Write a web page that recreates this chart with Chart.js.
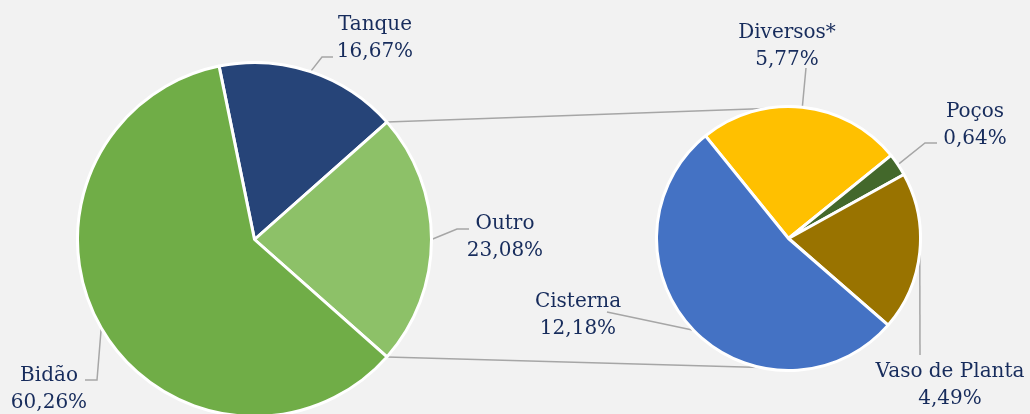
<!DOCTYPE html>
<html><head><meta charset="utf-8">
<script src="https://cdn.jsdelivr.net/npm/chart.js@4/dist/chart.umd.min.js"></script>
<style>
html,body{margin:0;padding:0;width:1030px;height:414px;overflow:hidden;background:#F2F2F2;}
#stage{position:relative;width:1030px;height:414px;overflow:hidden;}
#stage canvas{position:absolute;}
.lbl{position:absolute;font-family:"DejaVu Serif",serif;font-size:20px;line-height:27px;color:#172C5C;text-align:center;white-space:nowrap;transform:translateX(-50%);}
</style></head>
<body><div id="stage">
<canvas id="lines" width="1030" height="414" style="left:0;top:0"></canvas>
<canvas id="pieMain" width="357" height="357" style="left:76px;top:61px"></canvas>
<canvas id="pieSub" width="267" height="267" style="left:655px;top:105px"></canvas>
</div>
<script>
// ---- data ----
const mainCategories = ['Tanque', 'Outro', 'Bidão'];
const mainValues = [16.67, 23.08, 60.26];
const subCategories = ['Diversos*', 'Poços', 'Vaso de Planta', 'Cisterna'];
const subValues = [5.77, 0.64, 4.49, 12.18];

// ---- styles / layout ----
const mainColors = ['#264478', '#8DC168', '#70AD47'];
const subColors = ['#FFC000', '#43682B', '#997300', '#4472C4'];
const mainOffset = {x: 76, y: 61};
const subOffset = {x: 655, y: 105};
const mainLabelPos = [
  {x: 375, y: 10, path: [[322, 57], [333, 57]]},
  {x: 505, y: 209, path: [[457, 229], [469, 229]]},
  {x: 49, y: 361, path: [[97, 380], [85, 380]]}
];
const subLabelPos = [
  {x: 787, y: 18, path: [[806, 68]]},
  {x: 975, y: 97, path: [[925, 143], [937, 143]]},
  {x: 950, y: 357, path: [[920, 355]]},
  {x: 578, y: 287, path: [[607, 312]]}
];
const subRotation = -39;
const connectorAngles = [-10, 192]; // on secondary pie (deg, clockwise from top)

const fmt = v => v.toFixed(2).replace('.', ',') + '%';

// main pie: split slice ('Outro') centred on the right side
const splitIdx = 1;
const total = mainValues.reduce((a, b) => a + b, 0);
let before = 0;
for (let i = 0; i < splitIdx; i++) before += mainValues[i];
const mainRotation = 90 - (before + mainValues[splitIdx] / 2) / total * 360;

const common = {
  responsive: false,
  animation: false,
  events: [],
  layout: {padding: 0},
  plugins: {legend: {display: false}, tooltip: {enabled: false}}
};

const mainChart = new Chart(document.getElementById('pieMain'), {
  type: 'pie',
  data: {labels: mainCategories, datasets: [{data: mainValues, backgroundColor: mainColors, borderColor: '#FFFFFF', borderWidth: 3}]},
  options: Object.assign({}, common, {rotation: mainRotation})
});
const subChart = new Chart(document.getElementById('pieSub'), {
  type: 'pie',
  data: {labels: subCategories, datasets: [{data: subValues, backgroundColor: subColors, borderColor: '#FFFFFF', borderWidth: 3}]},
  options: Object.assign({}, common, {rotation: subRotation})
});

// ---- labels, leader lines and connectors ----
const stage = document.getElementById('stage');
const ctx = document.getElementById('lines').getContext('2d');

function edgePoint(arc, off, angle) {
  return [off.x + arc.x + Math.cos(angle) * arc.outerRadius, off.y + arc.y + Math.sin(angle) * arc.outerRadius];
}
function drawPoly(pts, w) {
  ctx.beginPath();
  ctx.moveTo(pts[0][0], pts[0][1]);
  for (let i = 1; i < pts.length; i++) ctx.lineTo(pts[i][0], pts[i][1]);
  ctx.strokeStyle = '#A6A6A6';
  ctx.lineWidth = w;
  ctx.lineJoin = 'miter';
  ctx.stroke();
}
function addLabels(chart, off, cats, vals, pos) {
  const arcs = chart.getDatasetMeta(0).data;
  arcs.forEach((arc, i) => {
    const mid = (arc.startAngle + arc.endAngle) / 2;
    const p = edgePoint(arc, off, mid);
    drawPoly([p].concat(pos[i].path), 1.5);
    const d = document.createElement('div');
    d.className = 'lbl';
    d.style.left = pos[i].x + 'px';
    d.style.top = pos[i].y + 'px';
    d.innerHTML = cats[i] + '<br>' + fmt(vals[i]);
    stage.appendChild(d);
  });
}
addLabels(mainChart, mainOffset, mainCategories, mainValues, mainLabelPos);
addLabels(subChart, subOffset, subCategories, subValues, subLabelPos);

// connectors from split slice to secondary pie
const split = mainChart.getDatasetMeta(0).data[splitIdx];
const subArc = subChart.getDatasetMeta(0).data[0];
const toRad = a => (a - 90) * Math.PI / 180;
const a1 = edgePoint(split, mainOffset, split.startAngle);
const a2 = edgePoint(split, mainOffset, split.endAngle);
const b1 = edgePoint(subArc, subOffset, toRad(connectorAngles[0]));
const b2 = edgePoint(subArc, subOffset, toRad(connectorAngles[1]));
drawPoly([a1, b1], 1.5);
drawPoly([a2, b2], 1.5);
</script>
</body></html>
